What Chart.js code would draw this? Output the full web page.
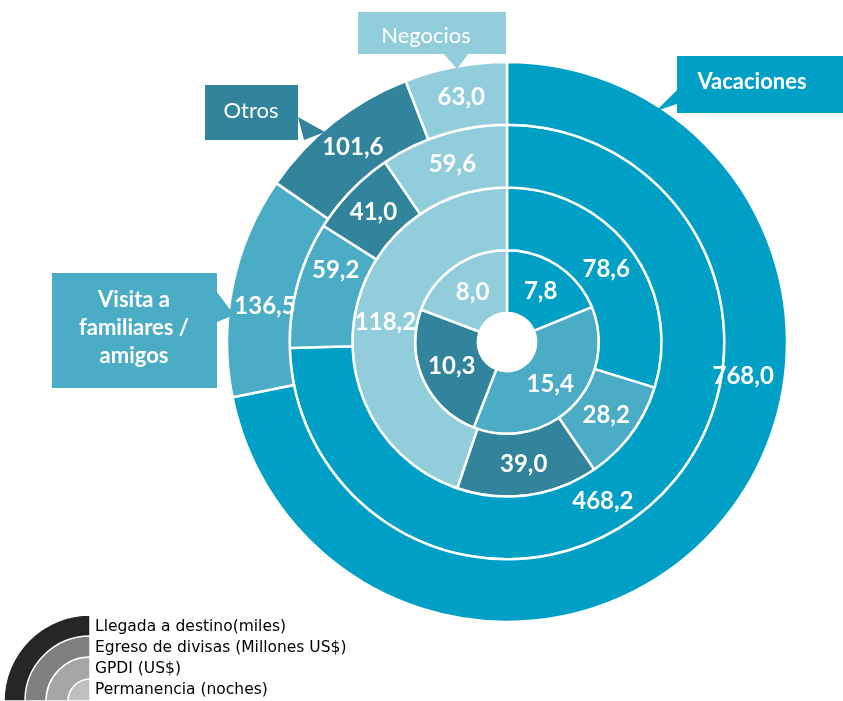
<!DOCTYPE html>
<html>
<head>
<meta charset="utf-8">
<script src="https://cdn.jsdelivr.net/npm/chart.js@4.4.0/dist/chart.umd.min.js"></script>
<style>
  html, body { margin: 0; padding: 0; background: #fff; }
</style>
</head>
<body>
<canvas id="chart" width="843" height="701"></canvas>
<script>
// categories and the four rings (outer -> inner)
const categories = ['Vacaciones', 'Visita a familiares / amigos', 'Otros', 'Negocios'];
const ringNames = ['Llegada a destino(miles)', 'Egreso de divisas (Millones US$)', 'GPDI (US$)', 'Permanencia (noches)'];
const llegada = [768.0, 136.5, 101.6, 63.0];
const egreso = [468.2, 59.2, 41.0, 59.6];
const gpdi = [78.6, 28.2, 39.0, 118.2];
const permanencia = [7.8, 15.4, 10.3, 8.0];

const colors = ['#00A0C6', '#4BACC6', '#31849B', '#92CDDC'];
const legendGrays = ['#262626', '#7F7F7F', '#A6A6A6', '#BFBFBF'];

// where along the arc each label sits (0.5 = middle) and a radial nudge, only the odd ones
const labelShift = { '0-0': [0.38, -10], '0-1': [0.43, -4], '1-0': [0.555, 0], '1-1': [0.72, 0] };

const fmt = v => v.toFixed(1).replace('.', ',');

function drawCallouts(ctx) {
  // box, tail, text lines
  const boxes = [
    { c: 0, box: [677, 56, 170, 57], tail: [[677, 90], [656, 111], [677, 104]], lines: ['Vacaciones'], bold: true, tx: 752, ty: 82 },
    { c: 1, box: [52, 273, 165, 115], tail: [[217, 292], [234, 315], [217, 322]], lines: ['Visita a', 'familiares /', 'amigos'], bold: true, tx: 134, ty: 300 },
    { c: 2, box: [205, 85, 93, 55], tail: [[298, 117], [325, 132], [304, 140]], lines: ['Otros'], bold: false, tx: 251, ty: 111 },
    { c: 3, box: [358, 12, 148, 42], tail: [[443, 53], [457, 69], [469, 53]], lines: ['Negocios'], bold: false, tx: 426, ty: 36 }
  ];
  ctx.save();
  boxes.forEach(b => {
    ctx.fillStyle = colors[b.c];
    ctx.fillRect(b.box[0], b.box[1], b.box[2], b.box[3]);
    ctx.beginPath();
    ctx.moveTo(b.tail[0][0], b.tail[0][1]);
    ctx.lineTo(b.tail[1][0], b.tail[1][1]);
    ctx.lineTo(b.tail[2][0], b.tail[2][1]);
    ctx.closePath();
    ctx.fill();
    ctx.fillStyle = '#fff';
    ctx.textAlign = 'center';
    ctx.textBaseline = 'middle';
    ctx.font = (b.bold ? 'bold ' : '') + '22px Lato';
    b.lines.forEach((t, k) => ctx.fillText(t, b.tx, b.ty + k * 28));
  });
  ctx.restore();
}

const ringLabels = {
  id: 'ringLabels',
  afterDatasetsDraw(chart) {
    const ctx = chart.ctx;
    drawCallouts(ctx);
    ctx.save();
    ctx.font = 'bold 24px Lato';
    ctx.fillStyle = '#fff';
    ctx.textAlign = 'center';
    ctx.textBaseline = 'middle';
    chart.data.datasets.forEach((ds, i) => {
      chart.getDatasetMeta(i).data.forEach((arc, j) => {
        const p = arc.getProps(['x', 'y', 'startAngle', 'endAngle', 'innerRadius', 'outerRadius'], true);
        const s = labelShift[i + '-' + j] || [0.5, 0];
        const a = p.startAngle + (p.endAngle - p.startAngle) * s[0];
        const r = (p.innerRadius + p.outerRadius) / 2 + s[1];
        ctx.fillText(fmt(ds.data[j]), p.x + Math.cos(a) * r, p.y + Math.sin(a) * r);
      });
    });
    ctx.restore();
  },
  afterDraw(chart) {
    // ring legend in the bottom left corner
    const ctx = chart.ctx;
    const cx = 90, cy = 701;
    const radii = [86, 65, 44, 22];
    ctx.save();
    radii.forEach((r, k) => {
      ctx.beginPath();
      ctx.moveTo(cx, cy);
      ctx.arc(cx, cy, r, Math.PI, Math.PI * 1.5);
      ctx.closePath();
      ctx.fillStyle = legendGrays[k];
      ctx.fill();
      ctx.strokeStyle = '#fff';
      ctx.lineWidth = 1.5;
      ctx.stroke();
    });
    ctx.fillStyle = '#000';
    ctx.font = '15.5px "DejaVu Sans"';
    ctx.textAlign = 'left';
    ctx.textBaseline = 'middle';
    ringNames.forEach((t, k) => ctx.fillText(t, 95, 627 + k * 21));
    ctx.restore();
  }
};

const series = [llegada, egreso, gpdi, permanencia];

new Chart(document.getElementById('chart'), {
  type: 'doughnut',
  data: {
    labels: categories,
    datasets: series.map((d, i) => ({
      label: ringNames[i],
      data: d,
      backgroundColor: colors,
      borderColor: '#fff',
      borderWidth: 2.5
    }))
  },
  options: {
    responsive: false,
    animation: false,
    radius: 280,
    cutout: '10.4%',
    layout: { padding: { left: 200, right: 29, top: 20, bottom: 37 } },
    plugins: {
      legend: { display: false },
      tooltip: { enabled: false }
    }
  },
  plugins: [ringLabels]
});
</script>
</body>
</html>
